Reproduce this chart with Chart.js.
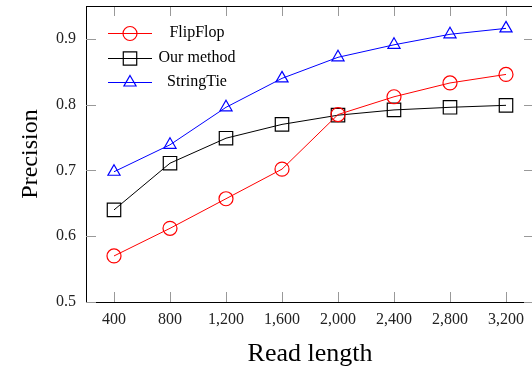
<!DOCTYPE html>
<html>
<head>
<meta charset="utf-8">
<script src="https://cdn.jsdelivr.net/npm/chart.js@4/dist/chart.umd.min.js"></script>
<style>
  html, body { margin: 0; padding: 0; background: #fff; overflow: hidden; }
  #wrap { width: 536px; height: 372px; position: relative; }
</style>
</head>
<body>
<div id="wrap"><canvas id="chart"></canvas></div>
<script>
const readLengths = [400, 800, 1200, 1600, 2000, 2400, 2800, 3200];
const flipFlop = [0.570, 0.612, 0.657, 0.702, 0.785, 0.812, 0.833, 0.846];
const ourMethod = [0.640, 0.711, 0.749, 0.770, 0.784, 0.792, 0.796, 0.799];
const stringTie = [0.698, 0.739, 0.796, 0.840, 0.872, 0.891, 0.907, 0.916];
const yTicks = [0.5, 0.6, 0.7, 0.8, 0.9];

const serif = "'Liberation Serif', 'DejaVu Serif', serif";

function toPoints (ys) {
  return readLengths.map((x, i) => ({ x: x, y: ys[i] }))
}

// inward tick marks on all four sides plus top/right frame
const frame = {
  id: 'frame',
  afterDatasetsDraw (chart) {
    const { ctx, chartArea: a, scales } = chart
    ctx.save()
    ctx.strokeStyle = '#999'
    ctx.lineWidth = 1
    ctx.beginPath()
    scales.x.ticks.forEach(t => {
      const px = Math.round(scales.x.getPixelForValue(t.value)) + 0.5
      ctx.moveTo(px, a.bottom); ctx.lineTo(px, a.bottom - 10)
      ctx.moveTo(px, a.top); ctx.lineTo(px, a.top + 10)
    })
    scales.y.ticks.forEach(t => {
      const py = Math.round(scales.y.getPixelForValue(t.value)) + 0.5
      ctx.moveTo(a.left, py); ctx.lineTo(a.left + 10, py)
      ctx.moveTo(a.right, py); ctx.lineTo(a.right - 10, py)
    })
    ctx.stroke()
    ctx.strokeStyle = '#000'
    ctx.beginPath()
    ctx.moveTo(a.left, a.top + 0.5); ctx.lineTo(a.right, a.top + 0.5)
    ctx.moveTo(a.right - 0.5, a.top); ctx.lineTo(a.right - 0.5, a.bottom)
    ctx.stroke()
    ctx.restore()
  }
}

// legend: line sample with marker, centred label
const legendBox = {
  id: 'legendBox',
  afterDraw (chart) {
    const { ctx } = chart
    const rows = [33, 58, 82]
    ctx.save()
    chart.data.datasets.forEach((ds, i) => {
      const y = rows[i]
      ctx.strokeStyle = ds.borderColor
      ctx.lineWidth = 1
      ctx.beginPath()
      ctx.moveTo(108, y + 0.5); ctx.lineTo(152, y + 0.5)
      ctx.stroke()
      ctx.lineWidth = ds.pointBorderWidth
      ctx.fillStyle = 'rgba(0,0,0,0)'
      Chart.helpers.drawPoint(ctx, { pointStyle: ds.pointStyle, radius: ds.pointRadius, rotation: 0, borderWidth: ds.pointBorderWidth }, 130, y + 0.5)
      ctx.fillStyle = '#000'
      ctx.font = '16px ' + serif
      ctx.textAlign = 'center'
      ctx.textBaseline = 'middle'
      ctx.fillText(ds.label, 197, y)
    })
    ctx.restore()
  }
}

const ctx = document.getElementById('chart')
new Chart(ctx, {
  type: 'line',
  data: {
    datasets: [
      {
        label: 'FlipFlop',
        data: toPoints(flipFlop),
        borderColor: '#ff0000',
        backgroundColor: 'transparent',
        pointStyle: 'circle',
        pointRadius: 7,
        pointBorderWidth: 1.2,
        borderWidth: 1
      },
      {
        label: 'Our method',
        data: toPoints(ourMethod),
        borderColor: '#000000',
        backgroundColor: 'transparent',
        pointStyle: 'rect',
        pointRadius: 9.5,
        pointBorderWidth: 1.2,
        borderWidth: 1
      },
      {
        label: 'StringTie',
        data: toPoints(stringTie),
        borderColor: '#0000ff',
        backgroundColor: 'transparent',
        pointStyle: 'triangle',
        pointRadius: 7,
        pointBorderWidth: 1.2,
        borderWidth: 1
      }
    ]
  },
  options: {
    responsive: true,
    maintainAspectRatio: false,
    animation: false,
    layout: { autoPadding: false, padding: { top: 6, right: 2, left: 0, bottom: 0 } },
    plugins: {
      legend: { display: false },
      tooltip: { enabled: false }
    },
    elements: { line: { tension: 0 } },
    scales: {
      x: {
        type: 'linear',
        min: 200,
        max: 3400,
        afterBuildTicks: s => { s.ticks = readLengths.map(v => ({ value: v })) },
        afterFit: s => { s.height = 70; s.paddingLeft = 0; s.paddingRight = 0 },
        grid: { display: false, drawTicks: false },
        border: { display: true, color: '#000', width: 1 },
        ticks: {
          padding: 8,
          color: '#222',
          font: { family: serif, size: 16 },
          maxRotation: 0,
          callback: v => v.toLocaleString('en-US')
        },
        title: {
          display: true,
          text: 'Read length',
          color: '#000',
          font: { family: serif, size: 26 },
          padding: { top: 0, bottom: 2 }
        }
      },
      y: {
        min: 0.5,
        max: 0.95,
        afterBuildTicks: s => { s.ticks = yTicks.map(v => ({ value: v })) },
        afterFit: s => { s.width = 86; s.paddingTop = 0; s.paddingBottom = 0 },
        grid: { display: false, drawTicks: false },
        border: { display: true, color: '#000', width: 1 },
        ticks: {
          padding: 10,
          color: '#222',
          font: { family: serif, size: 16 },
          callback: v => v.toFixed(1)
        },
        title: {
          display: true,
          text: 'Precision',
          color: '#000',
          font: { family: serif, size: 24 },
          padding: { top: 16, bottom: 0 }
        }
      }
    }
  },
  plugins: [frame, legendBox]
})
</script>
</body>
</html>
